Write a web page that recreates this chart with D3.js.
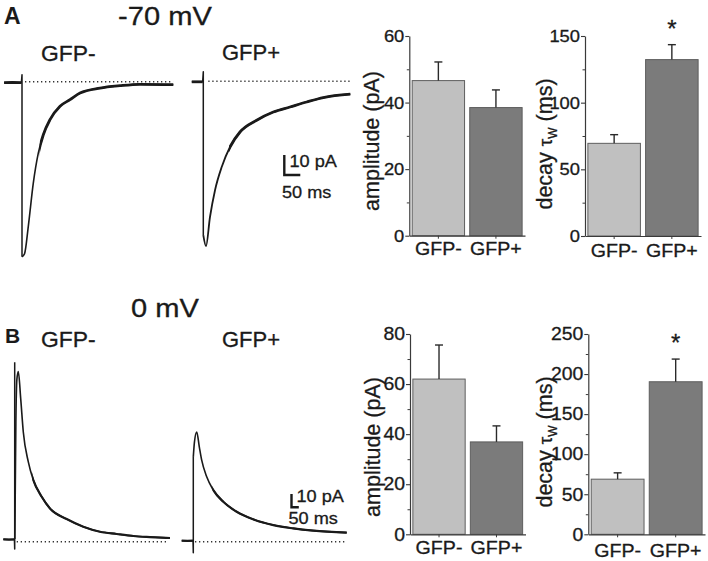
<!DOCTYPE html>
<html>
<head>
<meta charset="utf-8">
<script src="https://cdn.jsdelivr.net/npm/d3@7"></script>
<style>
  html, body { margin: 0; padding: 0; background: #fff; }
  svg { display: block; font-family: "Liberation Sans", Arial, Helvetica, sans-serif; }
</style>
</head>
<body>
<svg id="fig" width="708" height="561"></svg>
<script>
// ---------------- DATA ----------------
const categories = ["GFP-", "GFP+"];

// Panel A (-70 mV) bar charts
const ampA_mean = [46.6, 38.5];
const ampA_sem = [5.6, 5.3];
const ampA_ticks = [0, 20, 40, 60];
const ampA_minor = [10, 30, 50];
const decayA_mean = [69.5, 132.3];
const decayA_sem = [6.5, 11.2];
const decayA_ticks = [0, 50, 100, 150];
const decayA_minor = [25, 75, 125];

// Panel B (0 mV) bar charts
const ampB_mean = [62.0, 36.9];
const ampB_sem = [13.6, 6.4];
const ampB_ticks = [0, 20, 40, 60, 80];
const ampB_minor = [10, 30, 50, 70];
const decayB_mean = [68.8, 190.4];
const decayB_sem = [7.9, 28.3];
const decayB_ticks = [0, 50, 100, 150, 200, 250];
const decayB_minor = [25, 75, 125, 175, 225];

// Example traces: [time (ms) relative to stimulus, current (pA)]
// "pre" = baseline + stimulus artifact, "decay" = synaptic current
const traceA_neg_pre = [[-56, -0.5], [-30, -0.4], [-2, -0.5], [0, 3.5], [0, -87.5]];
const traceA_neg_decay = [[0, -87.5], [8, -86], [19.7, -72.3], [35.3, -50.7], [50.9, -35.7], [66.6, -26.5],
  [87.5, -19], [118.8, -12.3], [150, -9], [181.3, -5.7], [243.8, -3.2], [306, -2], [368.8, -1.3], [472.8, -1.5]];
const traceA_pos_pre = [[-36, -0.3], [-2, -0.3], [0, 4.7], [0, -77]];
const traceA_pos_decay = [[0, -77], [8.4, -82.5], [20.9, -67.9], [36.6, -54.5], [57.5, -42.9], [83.4, -32.9],
  [114.7, -25.4], [166.9, -19.5], [218.8, -15.4], [270.9, -12.9], [323.1, -10.4], [375, -8.2], [459.4, -6.5]];
const traceB_neg_pre = [[-78, 1.8], [-40, 1.6], [-2, 1.8], [0, -5.5], [0, 135]];
const traceB_neg_decay = [[1, 2], [8, 90], [15, 122], [24.7, 128], [41.1, 107.6], [58.9, 82.5], [93.2, 60],
  [127.4, 46.3], [185, 33.8], [241.8, 25], [356.2, 17], [469.9, 11.3], [584.3, 7.5], [698.7, 5.8],
  [812.4, 4.3], [926.8, 3.5], [1063.8, 2.8]];
const traceB_pos_pre = [[-79.5, 0.75], [-40, 0.6], [-2, 0.75], [0, -8.3], [0, 63.8]];
const traceB_pos_decay = [[0, 63.8], [8, 75], [23.3, 82.5], [41.1, 71.3], [57.5, 61.3], [91.8, 48.8],
  [137, 38.8], [205.5, 30], [297.3, 22.5], [411, 16.8], [548, 12.5], [685, 10], [822, 8.3], [1050.8, 6.8]];
// zero-current dotted reference (ms range)
const zeroA_neg = [9.4, 472];
const zeroA_pos = [15.6, 463.8];
const zeroB_neg = [13.7, 1052];
const zeroB_pos = [11.6, 1050.8];
// scale bars
const scaleBar = { ms: 50, pA: 10 };
const scaleLabels = ["10 pA", "50 ms"];

// ---------------- DRAWING ----------------
const svg = d3.select("#fig");
const defs = svg.append("defs");
const FONT = '"Liberation Sans", Arial, Helvetica, sans-serif';
const INK = "#1a1a1a";

function txt(x, y, s, size, opt = {}) {
  const sx = opt.sx || 1;
  const t = svg.append("text")
    .attr("transform", `translate(${x},${y}) scale(${sx},1)`)
    .attr("font-size", size)
    .attr("font-family", FONT)
    .attr("fill", INK)
    .attr("stroke", INK).attr("stroke-width", opt.bold ? 0 : 0.3)
    .attr("text-anchor", opt.anchor || "start")
    .attr("font-weight", opt.bold ? "bold" : "normal")
    .text(s);
  return t;
}

// Panel letters and titles
txt(4, 24, "A", 23, { bold: true });
txt(5, 342.5, "B", 21, { bold: true });
txt(118, 25, "-70 mV", 26, { sx: 1.12 });
txt(131, 316.7, "0 mV", 26, { sx: 1.12 });
txt(41, 60.7, categories[0], 22, { sx: 1.04 });
txt(222, 60, categories[1], 22, { sx: 1.0 });
txt(41, 347.3, categories[0], 22, { sx: 1.04 });
txt(222, 347.3, categories[1], 22, { sx: 1.0 });

// Trace drawing
let clipId = 0;
function drawTrace(pre, decay, zero, ox, oy, pxPerMs, pxPerPA, thin, thick, tSplit) {
  const x = d3.scaleLinear().domain([0, scaleBar.ms]).range([ox, ox + scaleBar.ms * pxPerMs]);
  const y = d3.scaleLinear().domain([0, scaleBar.pA]).range([oy, oy - scaleBar.pA * pxPerPA]);
  // dotted zero line
  svg.append("line")
    .attr("x1", x(zero[0])).attr("x2", x(zero[1]))
    .attr("y1", y(0)).attr("y2", y(0))
    .attr("stroke", "#333").attr("stroke-width", 1.4)
    .attr("stroke-dasharray", "1.3 2.7");
  const lin = d3.line().x(d => x(d[0])).y(d => y(d[1]));
  svg.append("path").attr("d", lin(pre))
    .attr("fill", "none").attr("stroke", INK).attr("stroke-width", 1.5)
    .attr("stroke-linejoin", "round");
  // baseline segment is noisy/thick
  svg.append("path").attr("d", lin(pre.filter(d => d[0] < -1)))
    .attr("fill", "none").attr("stroke", INK).attr("stroke-width", thick);
  const crv = d3.line().x(d => x(d[0])).y(d => y(d[1])).curve(d3.curveMonotoneX);
  const dPath = crv(decay);
  svg.append("path").attr("d", dPath)
    .attr("fill", "none").attr("stroke", INK).attr("stroke-width", thin)
    .attr("stroke-linejoin", "round");
  // noisy tail drawn thicker (same geometry, clipped)
  const id = "tailclip" + (clipId++);
  defs.append("clipPath").attr("id", id).append("rect")
    .attr("x", x(tSplit)).attr("y", 0).attr("width", 400).attr("height", 561);
  svg.append("path").attr("d", dPath)
    .attr("clip-path", `url(#${id})`)
    .attr("fill", "none").attr("stroke", INK).attr("stroke-width", thick)
    .attr("stroke-linejoin", "round");
  return { x, y };
}

const A_msPx = 16 / 50, A_paPx = 2;
const B_msPx = 7.3 / 50, B_paPx = 1.33;
drawTrace(traceA_neg_pre, traceA_neg_decay, zeroA_neg, 22, 81.7, A_msPx, A_paPx, 1.6, 2.8, 55);
drawTrace(traceA_pos_pre, traceA_pos_decay, zeroA_pos, 203.3, 81.2, A_msPx, A_paPx, 1.8, 2.8, 80);
drawTrace(traceB_neg_pre, traceB_neg_decay, zeroB_neg, 14.7, 541.7, B_msPx, B_paPx, 1.6, 2.2, 120);
drawTrace(traceB_pos_pre, traceB_pos_decay, zeroB_pos, 193.3, 541.7, B_msPx, B_paPx, 1.6, 2.2, 130);

// scale bars
function drawScaleBar(ox, oy, pxPerMs, pxPerPA, lab1, lab2, size) {
  const x = d3.scaleLinear().domain([0, scaleBar.ms]).range([ox, ox + scaleBar.ms * pxPerMs]);
  const y = d3.scaleLinear().domain([0, scaleBar.pA]).range([oy, oy - scaleBar.pA * pxPerPA]);
  svg.append("path")
    .attr("d", `M${x(0)},${y(scaleBar.pA)}L${x(0)},${y(0)}L${x(scaleBar.ms)},${y(0)}`)
    .attr("fill", "none").attr("stroke", INK).attr("stroke-width", 2.4);
  txt(lab1[0], lab1[1], scaleLabels[0], size, { sx: 1.1 });
  txt(lab2[0], lab2[1], scaleLabels[1], size, { sx: 1.1 });
}
drawScaleBar(284.3, 175, A_msPx, A_paPx, [289.5, 166.5], [282, 197.7], 16.5);
drawScaleBar(291.5, 507.3, B_msPx, B_paPx, [296.5, 501.7], [288.5, 524.3], 16.5);

// Bar charts
function barChart(cfg) {
  const g = svg.append("g");
  const y = d3.scaleLinear().domain([0, cfg.max]).range([cfg.yBottom, cfg.yTop]);
  const xb = d3.scaleBand().domain(categories).range([cfg.x0, cfg.x1])
    .paddingInner(0.09).paddingOuter(0.05);
  const fills = ["#c0c0c0", "#7b7b7b"];

  // bars
  g.selectAll("rect.bar").data(cfg.mean).join("rect")
    .attr("x", (d, i) => xb(categories[i]))
    .attr("width", xb.bandwidth())
    .attr("y", d => y(d))
    .attr("height", d => y(0) - y(d))
    .attr("fill", (d, i) => fills[i])
    .attr("stroke", "#5e5e5e").attr("stroke-width", 1);

  // error bars (upper only)
  cfg.mean.forEach((m, i) => {
    const cx = xb(categories[i]) + xb.bandwidth() / 2;
    g.append("line").attr("x1", cx).attr("x2", cx)
      .attr("y1", y(m)).attr("y2", y(m + cfg.sem[i]))
      .attr("stroke", "#2a2a2a").attr("stroke-width", 1.4);
    g.append("line").attr("x1", cx - 4).attr("x2", cx + 4)
      .attr("y1", y(m + cfg.sem[i])).attr("y2", y(m + cfg.sem[i]))
      .attr("stroke", "#2a2a2a").attr("stroke-width", 1.4);
  });

  // y axis major
  const ya = g.append("g").attr("transform", `translate(${cfg.x0},0)`)
    .call(d3.axisLeft(y).tickValues(cfg.ticks).tickSize(4).tickSizeOuter(0).tickPadding(1));
  ya.select(".domain").attr("stroke", "#3a3a3a").attr("stroke-width", 1.2);
  ya.selectAll(".tick line").attr("stroke", "#3a3a3a").attr("stroke-width", 1.1);
  ya.selectAll(".tick text")
    .attr("font-family", FONT).attr("font-size", cfg.tickSize).attr("fill", INK)
    .attr("stroke", INK).attr("stroke-width", 0.3)
    .attr("x", -5 / 1.08)
    .attr("transform", "scale(1.08,1)");
  // y axis minor
  const ym = g.append("g").attr("transform", `translate(${cfg.x0},0)`)
    .call(d3.axisLeft(y).tickValues(cfg.minor).tickSize(2.5).tickSizeOuter(0).tickFormat(""));
  ym.select(".domain").remove();
  ym.selectAll(".tick line").attr("stroke", "#3a3a3a").attr("stroke-width", 1);

  // x axis
  const xa = g.append("g").attr("transform", `translate(0,${cfg.yBottom})`)
    .call(d3.axisBottom(xb).tickSize(3).tickSizeOuter(0).tickFormat(""));
  xa.select(".domain").attr("stroke", "#3a3a3a").attr("stroke-width", 1.2);
  xa.selectAll(".tick line").attr("stroke", "#3a3a3a").attr("stroke-width", 1);

  // category labels
  categories.forEach((c, i) => {
    txt(xb(c) + xb.bandwidth() / 2, cfg.catY, c, 18.5, { anchor: "middle", sx: 1.06 });
  });

  // y label
  const lab = svg.append("text")
    .attr("transform", `translate(${cfg.labX},${cfg.labY}) rotate(-90)`)
    .attr("text-anchor", "middle")
    .attr("font-family", FONT).attr("font-size", 21.5).attr("fill", INK)
    .attr("stroke", INK).attr("stroke-width", 0.3);
  if (cfg.decay) {
    lab.append("tspan").text("decay ");
    lab.append("tspan").attr("font-size", 19).text("\u03c4");
    lab.append("tspan").attr("font-size", 12).attr("dy", 5).text("W");
    lab.append("tspan").attr("dy", -5).text(" (ms)");
  } else {
    lab.text("amplitude (pA)");
  }

  // significance star
  if (cfg.star) {
    const i = 1;
    txt(xb(categories[i]) + xb.bandwidth() / 2, cfg.starY, "*", 24, { anchor: "middle" });
  }
}

barChart({ x0: 409.3, x1: 525, yTop: 36, yBottom: 235.7, max: 60, ticks: ampA_ticks, minor: ampA_minor,
  mean: ampA_mean, sem: ampA_sem, tickSize: 17, catY: 255, labX: 379, labY: 141 });
barChart({ x0: 585, x1: 701, yTop: 36, yBottom: 236, max: 150, ticks: decayA_ticks, minor: decayA_minor,
  mean: decayA_mean, sem: decayA_sem, tickSize: 17, catY: 256.5, labX: 552, labY: 144, decay: true,
  star: true, starY: 37 });
barChart({ x0: 410, x1: 525.5, yTop: 334, yBottom: 534.3, max: 80, ticks: ampB_ticks, minor: ampB_minor,
  mean: ampB_mean, sem: ampB_sem, tickSize: 18, catY: 553.5, labX: 380, labY: 447 });
barChart({ x0: 588.3, x1: 705, yTop: 334, yBottom: 534.3, max: 250, ticks: decayB_ticks, minor: decayB_minor,
  mean: decayB_mean, sem: decayB_sem, tickSize: 18, catY: 557, labX: 552, labY: 442, decay: true,
  star: true, starY: 351 });
</script>
</body>
</html>
